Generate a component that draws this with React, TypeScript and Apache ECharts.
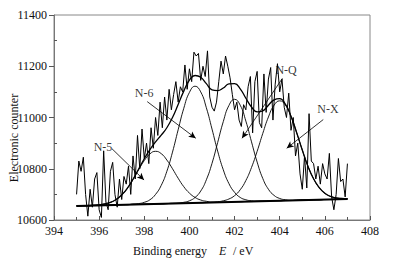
import React, { useEffect, useRef } from "react";
import * as echarts from "echarts";

// ---- raw spectrum (binding energy grid 395.0 .. 407.0, step 0.1 eV) ----
const rawStart = 395.0;
const rawStep = 0.1;
const rawCounts = [
  10700, 10830, 10790, 10845, 10700, 10615, 10720, 10650, 10760, 10785,
  10640, 10610, 10870, 10670, 10640, 10790, 10825, 10700, 10650, 10760,
  10680, 10770, 10740, 10810, 10700, 10850, 10760, 10930, 10800, 10955,
  10840, 10900, 10820, 10960, 10880, 11000, 10930, 11060, 10960, 11080,
  10990, 11110, 11030, 11090, 11140, 11060, 11120, 11100, 11205, 11110,
  11190, 11140, 11255, 11240, 11250, 11145, 11200, 11160, 11260, 11080,
  11040, 11025, 11060, 11140, 11220, 11170, 11240, 11200, 11155, 11090,
  11030, 11060, 10990, 10965, 11050, 11030, 11120, 11160, 10940, 11140,
  11180, 10980, 10960, 11170, 11020, 11150, 11195, 10990, 11130, 11210,
  11100, 11150, 11040, 11000, 11095, 10950, 11000, 10850, 10900, 10780,
  10720, 10850, 10725, 11015, 10830, 10820, 10760, 10810, 10740, 10820,
  10780, 10760, 10860, 10690, 10640, 10700, 10840, 10750, 10760, 10690,
  10820,
];

// ---- fitted curves (grid 395.0 .. 407.0, step 0.25 eV) ----
const fitStart = 395.0;
const fitStep = 0.25;
const fitBaseline = [
  10655, 10656, 10656, 10657, 10657, 10658, 10658, 10659, 10660, 10660,
  10661, 10661, 10662, 10662, 10663, 10663, 10664, 10665, 10665, 10666,
  10666, 10667, 10667, 10668, 10669, 10669, 10670, 10670, 10671, 10671,
  10672, 10672, 10673, 10674, 10674, 10675, 10675, 10676, 10676, 10677,
  10678, 10678, 10679, 10679, 10680, 10680, 10681, 10681, 10682,
];
const peakN5 = [
  10655, 10656, 10656, 10657, 10659, 10663, 10669, 10680, 10698, 10724,
  10758, 10796, 10832, 10858, 10868, 10859, 10834, 10800, 10763, 10730,
  10705, 10688, 10678, 10673, 10670, 10670, 10670, 10670, 10671, 10671,
  10672, 10672, 10673, 10674, 10674, 10675, 10675, 10676, 10676, 10677,
  10678, 10678, 10679, 10679, 10680, 10680, 10681, 10681, 10682,
];
const peakN6 = [
  10655, 10656, 10656, 10657, 10657, 10658, 10658, 10659, 10660, 10660,
  10662, 10664, 10669, 10679, 10700, 10735, 10790, 10865, 10952, 11036,
  11098, 11122, 11100, 11038, 10955, 10869, 10796, 10742, 10708, 10688,
  10679, 10675, 10674, 10674, 10674, 10675, 10675, 10676, 10676, 10677,
  10678, 10678, 10679, 10679, 10680, 10680, 10681, 10681, 10682,
];
const peakNQ = [
  10655, 10656, 10656, 10657, 10657, 10658, 10658, 10659, 10660, 10660,
  10661, 10661, 10662, 10662, 10663, 10663, 10664, 10665, 10666, 10669,
  10675, 10688, 10713, 10757, 10821, 10902, 10984, 11047, 11071, 11048,
  10986, 10905, 10826, 10762, 10720, 10696, 10684, 10679, 10677, 10677,
  10678, 10678, 10679, 10679, 10680, 10680, 10681, 10681, 10682,
];
const peakNX = [
  10655, 10656, 10656, 10657, 10657, 10658, 10658, 10659, 10660, 10660,
  10661, 10661, 10662, 10662, 10663, 10663, 10664, 10665, 10665, 10666,
  10666, 10667, 10667, 10668, 10669, 10671, 10675, 10682, 10695, 10718,
  10754, 10805, 10868, 10938, 11002, 11048, 11065, 11049, 11004, 10941,
  10873, 10810, 10761, 10726, 10704, 10692, 10686, 10684, 10683,
];
const baselineEnds = [
  [395, 10655],
  [407, 10682],
];

// ---- annotations ----
const peakNames = ["N-5", "N-6", "N-Q", "N-X"];

// axis ranges
const xMin = 394, xMax = 408, xInterval = 2;
const yMin = 10600, yMax = 11400, yInterval = 200;

// annotation placement (data coordinates)
const labelAt = [
  [396.17, 10885],
  [397.99, 11096],
  [404.28, 11185],
  [406.14, 11033],
];
const arrowFrom = [
  [396.57, 10878],
  [398.13, 11062],
  [404.12, 11153],
  [405.93, 10992],
];
const arrowTo = [
  [397.99, 10756],
  [400.28, 10919],
  [402.33, 10919],
  [404.31, 10880],
];

const SERIF = "'Liberation Serif', 'DejaVu Serif', serif";

export default function App() {
  const ref = useRef<HTMLDivElement>(null);

  useEffect(() => {
    if (!ref.current) return;
    const chart = echarts.init(ref.current, null, { renderer: "svg" });

    const raw = rawCounts.map((v, i) => [rawStart + i * rawStep, v]);
    const fitX = fitBaseline.map((_, i) => fitStart + i * fitStep);
    const comps = [peakN5, peakN6, peakNQ, peakNX];
    const envelope = fitBaseline.map((b, i) => {
      let s = b;
      comps.forEach((c) => (s += c[i] - b));
      return [fitX[i], s];
    });

    const compSeries = comps.map((c, k) => ({
      name: peakNames[k],
      type: "line",
      data: c.map((v, i) => [fitX[i], v]),
      smooth: true,
      symbol: "none",
      lineStyle: { color: "#000", width: 0.9 },
      z: 3,
    }));

    const option: any = {
      animation: false,
      backgroundColor: "#fff",
      grid: {
        left: 54,
        right: 24,
        top: 15,
        bottom: 40,
        show: true,
        borderColor: "#888",
        borderWidth: 1,
      },
      xAxis: {
        type: "value",
        min: xMin,
        max: xMax,
        interval: xInterval,
        axisLine: { show: true, lineStyle: { color: "#777", width: 1 } },
        axisTick: { show: true, inside: true, length: 4, lineStyle: { color: "#555" } },
        minorTick: { show: true, splitNumber: 2, length: 3, lineStyle: { color: "#555" } },
        splitLine: { show: false },
        axisLabel: {
          color: "#111",
          fontFamily: SERIF,
          fontSize: 12,
          margin: 5,
          formatter: (v: number) => String(v),
        },
      },
      yAxis: [
        {
          type: "value",
          min: yMin,
          max: yMax,
          interval: yInterval,
          axisLine: { show: true, lineStyle: { color: "#777", width: 1 } },
          axisTick: { show: true, inside: false, length: 5, lineStyle: { color: "#555" } },
          splitLine: { show: false },
          axisLabel: {
            color: "#111",
            fontFamily: SERIF,
            fontSize: 12,
            margin: 7,
            formatter: (v: number) => String(v),
          },
        },
        {
          type: "value",
          min: yMin,
          max: yMax,
          interval: yInterval,
          position: "left",
          axisLine: { show: false },
          axisTick: { show: false, inside: true },
          minorTick: { show: true, splitNumber: 2, length: 3, lineStyle: { color: "#555" } },
          splitLine: { show: false },
          axisLabel: { show: false },
        },
      ],
      series: [
        {
          name: "raw",
          type: "line",
          data: raw,
          symbol: "none",
          lineStyle: { color: "#000", width: 1 },
          z: 2,
        },
        ...compSeries,
        {
          name: "envelope",
          type: "line",
          data: envelope,
          smooth: true,
          symbol: "none",
          lineStyle: { color: "#000", width: 1.3 },
          z: 4,
        },
        {
          name: "baseline",
          type: "line",
          data: baselineEnds,
          symbol: "none",
          lineStyle: { color: "#000", width: 2 },
          z: 5,
          markLine: {
            silent: true,
            symbol: ["none", "arrow"],
            symbolSize: [5, 7],
            lineStyle: { color: "#000", width: 0.8, type: "solid" },
            label: { show: false },
            data: arrowFrom.map((p, k) => [
              { coord: p },
              { coord: arrowTo[k] },
            ]),
          },
        },
        {
          name: "labels",
          type: "scatter",
          symbolSize: 1,
          itemStyle: { color: "rgba(0,0,0,0)" },
          data: labelAt.map((p, k) => ({ value: p, name: peakNames[k] })),
          label: {
            show: true,
            position: "inside",
            formatter: "{b}",
            color: "#000",
            fontFamily: SERIF,
            fontSize: 12,
          },
          z: 6,
        },
      ],
      graphic: [
        {
          type: "text",
          x: 14,
          y: 138,
          rotation: Math.PI / 2,
          style: {
            text: "Electronic counter",
            fontFamily: SERIF,
            fontSize: 12,
            fill: "#111",
            align: "center",
            verticalAlign: "middle",
          },
        },
        {
          type: "text",
          x: 133,
          y: 251,
          style: {
            text: "Binding energy",
            fontFamily: SERIF,
            fontSize: 12,
            fill: "#111",
            align: "left",
            verticalAlign: "middle",
          },
        },
        {
          type: "text",
          x: 219,
          y: 251,
          style: {
            text: "E",
            fontFamily: SERIF,
            fontStyle: "italic",
            fontSize: 12,
            fill: "#111",
            align: "left",
            verticalAlign: "middle",
          },
        },
        {
          type: "text",
          x: 233,
          y: 251,
          style: {
            text: "/ eV",
            fontFamily: SERIF,
            fontSize: 12,
            fill: "#111",
            align: "left",
            verticalAlign: "middle",
          },
        },
      ],
    };

    chart.setOption(option);
    return () => chart.dispose();
  }, []);

  return (
    <div
      ref={ref}
      style={{
        position: "fixed",
        left: 0,
        top: 0,
        width: 394,
        height: 260,
        background: "#fff",
      }}
    />
  );
}
